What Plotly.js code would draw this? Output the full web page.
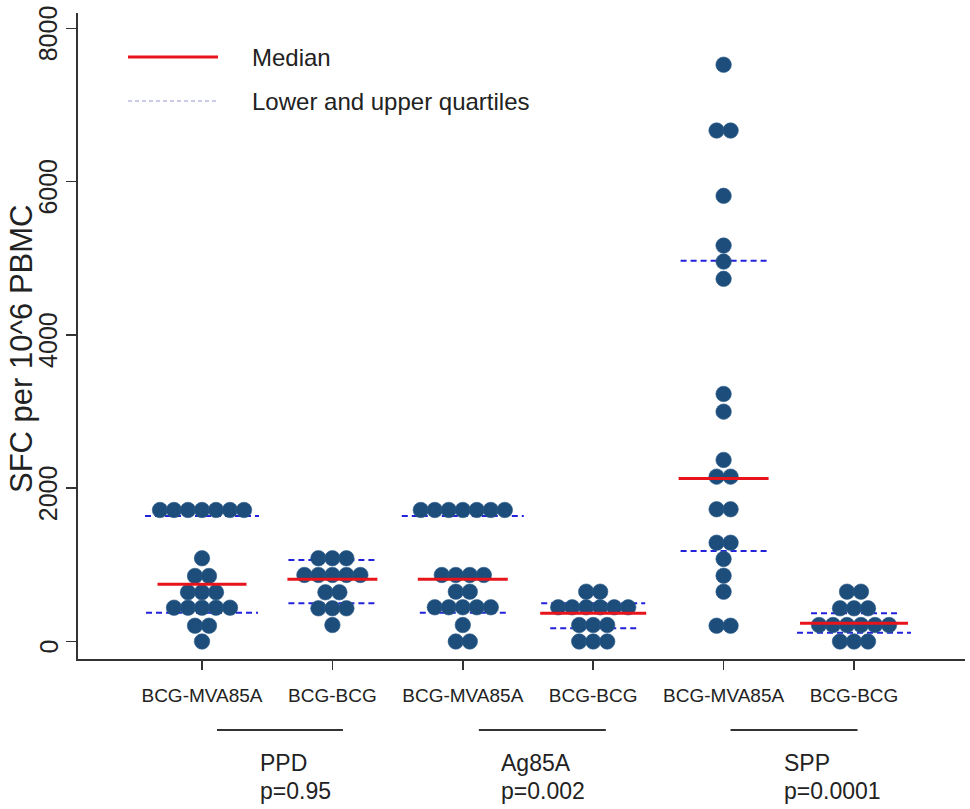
<!DOCTYPE html>
<html>
<head>
<meta charset="utf-8">
<script src="https://cdn.plot.ly/plotly-3.0.1.min.js"></script>
<style>html,body{margin:0;padding:0;background:#fff;}#chart{width:970px;height:809px;}</style>
</head>
<body>
<div id="chart"></div>
<script>
// ---------- DATA ----------
const groupLabels = ['BCG-MVA85A', 'BCG-BCG', 'BCG-MVA85A', 'BCG-BCG', 'BCG-MVA85A', 'BCG-BCG'];
const antigens = ['PPD', 'Ag85A', 'SPP'];
const pValues = ['p=0.95', 'p=0.002', 'p=0.0001'];
const yTitle = 'SFC per 10^6 PBMC';
const legendLabels = ['Median', 'Lower and upper quartiles'];
const yTicks = [0, 2000, 4000, 6000, 8000];

const ppdMVA = [1716,1716,1716,1716,1716,1716,1716, 1086, 855,855, 642,642,642, 441,441,441,441,441, 206,206, 0];
const ppdBCG = [1086,1086,1086, 868,868,868,868,868, 642,642, 433,433,433, 215];
const ag85aMVA = [1716,1716,1716,1716,1716,1716,1716, 868,868,868,868, 650,650, 446,446,446,446,446, 215, 0,0];
const ag85aBCG = [650,650, 446,446,446,446,446,446, 215,215,215, 0,0,0];
const sppMVA = [7525, 6666,6666, 5814, 5165, 4956, 4731, 3230, 2999, 2369, 2151,2151, 1725,1725, 1289,1289, 1077, 859, 650, 206,206];
const sppBCG = [650,650, 433,433,433, 215,215,215,215,215,215, 0,0,0];

const medians = [746, 812, 812, 368, 2125, 238];
const upperQuartiles = [1638, 1064, 1638, 498, 4969, 368];
const lowerQuartiles = [376, 498, 376, 172, 1181, 115];

// ---------- STYLE / LAYOUT ----------
const seriesList = [ppdMVA, ppdBCG, ag85aMVA, ag85aBCG, sppMVA, sppBCG];
const pxPerUnit = 130.4;
const dotSpacing = 14 / pxPerUnit;
const medHalf = [44.5, 45, 45, 53, 45, 54].map(v => v / pxPerUnit);
const upHalf = [57, 44, 61, 52, 43, 43].map(v => v / pxPerUnit);
const loHalf = [56, 44, 43, 43, 43, 57].map(v => v / pxPerUnit);
const underline = [[1.115, 2.081], [3.123, 4.097], [5.053, 6.027]];
const labelLeft = [1.43, 3.28, 5.45];
const FONT = 'Liberation Sans, Arial, sans-serif';
const dotColor = '#1d4d7b';

// beeswarm positions
const xs = [], ys = [];
seriesList.forEach((vals, gi) => {
  const counts = {};
  vals.forEach(v => { counts[v] = (counts[v] || 0) + 1; });
  Object.keys(counts).forEach(k => {
    const n = counts[k];
    for (let i = 0; i < n; i++) {
      xs.push(gi + 1 + (i - (n - 1) / 2) * dotSpacing);
      ys.push(Number(k));
    }
  });
});

function segs(values, half) {
  const x = [], y = [];
  values.forEach((v, i) => {
    const c = i + 1;
    x.push(c - half[i], c + half[i], null);
    y.push(v, v, null);
  });
  return {x, y};
}
const med = segs(medians, medHalf);
const upq = segs(upperQuartiles, upHalf);
const loq = segs(lowerQuartiles, loHalf);

const traces = [
  {x: upq.x, y: upq.y, mode: 'lines', line: {color: '#2222dd', width: 2, dash: '6px,4px'}, hoverinfo: 'skip', showlegend: false},
  {x: loq.x, y: loq.y, mode: 'lines', line: {color: '#2222dd', width: 2, dash: '6px,4px'}, hoverinfo: 'skip', showlegend: false},
  {x: xs, y: ys, mode: 'markers', marker: {size: 15.5, color: dotColor, line: {width: 0.6, color: '#2b5c8a'}}, showlegend: false},
  {x: med.x, y: med.y, mode: 'lines', line: {color: '#e8141c', width: 3}, hoverinfo: 'skip', showlegend: false}
];

const L = 78, R = 965, T = 13, B = 659;
const pw = R - L, ph = B - T;
const px2x = px => (px - L) / pw;
const py2y = py => (B - py) / ph;

const shapes = [
  {type: 'line', xref: 'paper', yref: 'paper', x0: px2x(128), x1: px2x(218), y0: py2y(57), y1: py2y(57), line: {color: '#e8141c', width: 3}},
  {type: 'line', xref: 'paper', yref: 'paper', x0: px2x(128), x1: px2x(218), y0: py2y(101), y1: py2y(101), line: {color: '#b9b9e2', width: 1.5, dash: '4px,3px'}}
];
underline.forEach(u => {
  shapes.push({type: 'line', xref: 'x', yref: 'paper', x0: u[0], x1: u[1], y0: py2y(730), y1: py2y(730), line: {color: '#333', width: 2}});
});

const annotations = [
  {xref: 'paper', yref: 'paper', x: px2x(250), y: py2y(57), text: legendLabels[0], showarrow: false, xanchor: 'left', yanchor: 'middle', font: {family: FONT, size: 24, color: '#222'}},
  {xref: 'paper', yref: 'paper', x: px2x(250), y: py2y(101), text: legendLabels[1], showarrow: false, xanchor: 'left', yanchor: 'middle', font: {family: FONT, size: 24, color: '#222'}},
  {xref: 'paper', yref: 'paper', x: px2x(21), y: py2y(349), text: yTitle, textangle: -90, showarrow: false, xanchor: 'center', yanchor: 'middle', font: {family: FONT, size: 31, color: '#222'}}
];
// y tick labels (rotated, slightly below each tick as in the reference)
yTicks.forEach(t => {
  annotations.push({xref: 'paper', yref: 'y', x: px2x(48), y: t, yshift: -5, text: String(t), textangle: -90, showarrow: false, xanchor: 'center', yanchor: 'middle', font: {family: FONT, size: 25, color: '#222'}});
});
antigens.forEach((a, i) => {
  annotations.push({xref: 'x', yref: 'paper', x: labelLeft[i], y: py2y(763), text: a, showarrow: false, xanchor: 'left', yanchor: 'middle', font: {family: FONT, size: 23, color: '#222'}});
  annotations.push({xref: 'x', yref: 'paper', x: labelLeft[i], y: py2y(791), text: pValues[i], showarrow: false, xanchor: 'left', yanchor: 'middle', font: {family: FONT, size: 23, color: '#222'}});
});

const layout = {
  width: 970, height: 809,
  margin: {l: L, r: 970 - R, t: T, b: 809 - B, pad: 0},
  paper_bgcolor: '#fff', plot_bgcolor: '#fff',
  showlegend: false,
  xaxis: {
    range: [1 - (202 - L) / pxPerUnit, 1 + (R - 202) / pxPerUnit],
    tickmode: 'array', tickvals: [1, 2, 3, 4, 5, 6], ticktext: groupLabels,
    ticks: 'outside', ticklen: 9, tickwidth: 1.5, tickcolor: '#333',
    showline: true, linecolor: '#333', linewidth: 2,
    showgrid: false, zeroline: false,
    ticklabelstandoff: 9,
    tickfont: {family: FONT, size: 19, color: '#222'}
  },
  yaxis: {
    range: [-228.3, 8199.6],
    tickmode: 'array', tickvals: yTicks,
    ticks: 'outside', ticklen: 10, tickwidth: 1.5, tickcolor: '#333',
    showticklabels: false,
    showline: true, linecolor: '#333', linewidth: 2,
    showgrid: false, zeroline: false
  },
  shapes: shapes,
  annotations: annotations
};

Plotly.newPlot('chart', traces, layout, {displayModeBar: false, staticPlot: true});
</script>
</body>
</html>
